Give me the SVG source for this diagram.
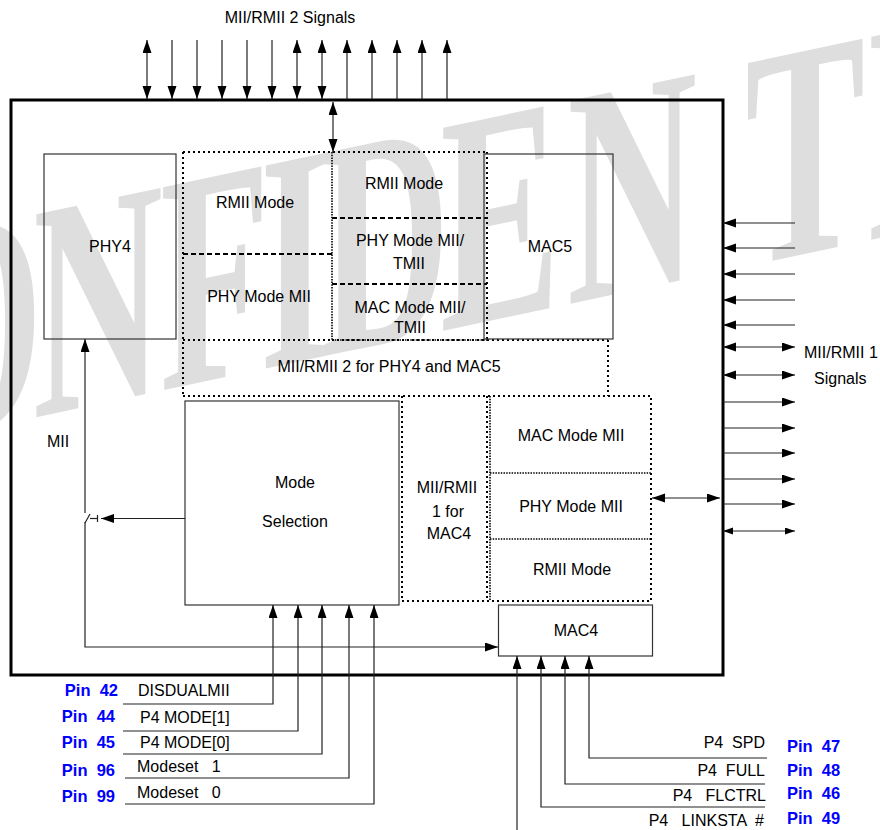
<svg xmlns="http://www.w3.org/2000/svg" width="880" height="830" viewBox="0 0 880 830">
<defs>
<style>
.ln{stroke:#222;stroke-width:1.2;fill:none}
.box{fill:none;stroke:#333;stroke-width:1.2}
.dot{fill:none;stroke:#000;stroke-width:2;stroke-dasharray:2 3}
.dash{fill:none;stroke:#000;stroke-width:2;stroke-dasharray:5 3}
.fine{fill:none;stroke:#000;stroke-width:1.6;stroke-dasharray:1.5 1.2}
.t{font-family:"Liberation Sans",Arial,sans-serif;font-size:16px;fill:#000;white-space:pre}
.c{text-anchor:middle}
.pin{font-family:"Liberation Sans",Arial,sans-serif;font-size:16.5px;font-weight:bold;fill:#0000ff;white-space:pre}
.wm{font-family:"Liberation Serif","Times New Roman",serif;font-size:310px;font-weight:bold;fill:#dedede}
</style>
<marker id="ah" markerUnits="userSpaceOnUse" markerWidth="14" markerHeight="10" refX="13" refY="4.5" orient="auto-start-reverse">
<path d="M0,0 L13,4.5 L0,9 z" fill="#000"/>
</marker>
<marker id="as" markerUnits="userSpaceOnUse" markerWidth="12" markerHeight="8" refX="10" refY="3.5" orient="auto-start-reverse">
<path d="M0,0 L10,3.5 L0,7 z" fill="#000"/>
</marker>
</defs>
<rect width="880" height="830" fill="#fff"/>

<g id="watermark">
<text class="wm" transform="translate(33,418) skewY(-12) scale(0.58,1)" x="-224 0 219 391 495 702 921 1228 1435" y="0">ONFIDENTI</text>
</g>

<g id="chip">
<rect x="11" y="100" width="712" height="575" fill="none" stroke="#000" stroke-width="3"/>
</g>

<g id="phy4">
<rect class="box" x="44" y="154" width="132" height="185"/>
<text class="t c" x="110" y="252">PHY4</text>
</g>

<g id="mii-rmii2-frame">
<path class="dot" d="M183,152 H487 M183,152 V396 M183,340 H332 M487,152 V340 M332,340 H608 M608,340 V396 M183,396 H651"/>
<path class="dash" d="M183,254 H332 M332,218 H487 M332,284 H487"/>
<path class="fine" d="M332,152 V340 M332,340 H487"/>
</g>

<g id="rmii-mode-left"><text class="t c" x="255" y="208">RMII Mode</text></g>
<g id="phy-mode-mii-left"><text class="t c" x="259" y="302">PHY Mode MII</text></g>
<g id="rmii-mode-mid"><text class="t c" x="404" y="189">RMII Mode</text></g>
<g id="phy-mode-tmii"><text class="t c" x="410" y="246">PHY Mode MII/</text><text class="t c" x="409" y="269">TMII</text></g>
<g id="mac-mode-tmii"><text class="t c" x="410" y="313">MAC Mode MII/</text><text class="t c" x="410" y="333">TMII</text></g>

<g id="mac5">
<rect class="box" x="484" y="154" width="129" height="185"/>
<text class="t c" x="550" y="252">MAC5</text>
</g>

<g id="mii-rmii2">
<text class="t c" x="389" y="372">MII/RMII 2 for PHY4 and MAC5</text>
</g>

<g id="mode-selection">
<rect class="box" x="185" y="401" width="214" height="204"/>
<text class="t c" x="295" y="488">Mode</text>
<text class="t c" x="295" y="527">Selection</text>
</g>

<g id="mii-rmii1">
<path class="dot" d="M402,396 V601 H651 V396 M487,396 V601"/>
<text class="t c" x="447" y="493">MII/RMII</text>
<text class="t c" x="448" y="517">1 for</text>
<text class="t c" x="449" y="539">MAC4</text>
</g>

<g id="mode-blocks-mac4">
<path class="fine" d="M490,396 V601 M490,473 H651 M490,539 H651"/>
</g>
<g id="mac-mode-mii"><text class="t c" x="571" y="441">MAC Mode MII</text></g>
<g id="phy-mode-mii-right"><text class="t c" x="571" y="512">PHY Mode MII</text></g>
<g id="rmii-mode-right"><text class="t c" x="572" y="575">RMII Mode</text></g>

<g id="mac4">
<rect class="box" x="498.5" y="605" width="154" height="51"/>
<text class="t c" x="576" y="636">MAC4</text>
</g>

<g id="labels">
<text class="t c" x="290" y="23">MII/RMII 2 Signals</text>
<text class="t" x="804" y="358">MII/RMII 1</text>
<text class="t" x="814" y="384">Signals</text>
<text class="t" x="47" y="447">MII</text>
<text class="pin" x="118" y="696" text-anchor="end">Pin  42</text>
<text class="pin" x="115" y="722" text-anchor="end">Pin  44</text>
<text class="pin" x="115" y="748" text-anchor="end">Pin  45</text>
<text class="pin" x="115" y="776" text-anchor="end">Pin  96</text>
<text class="pin" x="115" y="802" text-anchor="end">Pin  99</text>
<text class="t" x="138" y="696">DISDUALMII</text>
<text class="t" x="140" y="723">P4 MODE[1]</text>
<text class="t" x="140" y="748">P4 MODE[0]</text>
<text class="t" x="137" y="772">Modeset   1</text>
<text class="t" x="137" y="798">Modeset   0</text>
<text class="t" x="765" y="748" text-anchor="end">P4  SPD</text>
<text class="t" x="765" y="776" text-anchor="end">P4  FULL</text>
<text class="t" x="766" y="801" text-anchor="end">P4   FLCTRL</text>
<text class="t" x="764" y="826" text-anchor="end">P4   LINKSTA  #</text>
<text class="pin" x="787" y="752">Pin  47</text>
<text class="pin" x="787" y="776">Pin  48</text>
<text class="pin" x="787" y="799">Pin  46</text>
<text class="pin" x="787" y="824">Pin  49</text>
</g>

<g id="connectors">
<line class="ln" x1="147" y1="40" x2="147" y2="99" marker-start="url(#ah)" marker-end="url(#ah)"/>
<line class="ln" x1="172" y1="40" x2="172" y2="99" marker-end="url(#ah)"/>
<line class="ln" x1="197" y1="40" x2="197" y2="99" marker-end="url(#ah)"/>
<line class="ln" x1="222" y1="40" x2="222" y2="99" marker-end="url(#ah)"/>
<line class="ln" x1="247" y1="40" x2="247" y2="99" marker-end="url(#ah)"/>
<line class="ln" x1="272" y1="40" x2="272" y2="99" marker-end="url(#ah)"/>
<line class="ln" x1="297" y1="40" x2="297" y2="99" marker-start="url(#ah)" marker-end="url(#ah)"/>
<line class="ln" x1="322" y1="40" x2="322" y2="99" marker-start="url(#ah)" marker-end="url(#ah)"/>
<line class="ln" x1="347" y1="99" x2="347" y2="40" marker-end="url(#ah)"/>
<line class="ln" x1="372" y1="99" x2="372" y2="40" marker-end="url(#ah)"/>
<line class="ln" x1="397" y1="99" x2="397" y2="40" marker-end="url(#ah)"/>
<line class="ln" x1="422" y1="99" x2="422" y2="40" marker-end="url(#ah)"/>
<line class="ln" x1="447" y1="99" x2="447" y2="40" marker-end="url(#ah)"/>
<line class="ln" x1="333" y1="102" x2="333" y2="152" marker-start="url(#ah)" marker-end="url(#ah)"/>
<line class="ln" x1="795" y1="223" x2="723" y2="223" marker-end="url(#ah)"/>
<line class="ln" x1="795" y1="248" x2="723" y2="248" marker-end="url(#ah)"/>
<line class="ln" x1="795" y1="274" x2="723" y2="274" marker-end="url(#ah)"/>
<line class="ln" x1="795" y1="300" x2="723" y2="300" marker-end="url(#ah)"/>
<line class="ln" x1="795" y1="325" x2="723" y2="325" marker-end="url(#ah)"/>
<line class="ln" x1="723" y1="347" x2="795" y2="347" marker-start="url(#ah)" marker-end="url(#ah)"/>
<line class="ln" x1="723" y1="375" x2="795" y2="375" marker-start="url(#ah)" marker-end="url(#ah)"/>
<line class="ln" x1="723" y1="402" x2="795" y2="402" marker-end="url(#ah)"/>
<line class="ln" x1="723" y1="428" x2="795" y2="428" marker-end="url(#ah)"/>
<line class="ln" x1="723" y1="453" x2="795" y2="453" marker-end="url(#ah)"/>
<line class="ln" x1="723" y1="479" x2="795" y2="479" marker-end="url(#ah)"/>
<line class="ln" x1="723" y1="504" x2="795" y2="504" marker-end="url(#ah)"/>
<line class="ln" x1="723" y1="531" x2="795" y2="531" marker-start="url(#as)" marker-end="url(#as)"/>
<line class="ln" x1="652" y1="498" x2="720" y2="498" marker-start="url(#ah)" marker-end="url(#ah)"/>
<line class="ln" x1="85" y1="513" x2="85" y2="339" marker-end="url(#ah)"/>
<line class="ln" x1="85" y1="523" x2="90" y2="514"/>
<line class="ln" x1="90" y1="518.5" x2="97" y2="518.5"/>
<line class="ln" x1="97.5" y1="515" x2="97.5" y2="522"/>
<line class="ln" x1="185" y1="518.5" x2="101" y2="518.5" marker-end="url(#ah)"/>
<polyline class="ln" points="85,522 85,647 498,647" marker-end="url(#ah)"/>
<polyline class="ln" points="123,704 273,704 273,605" marker-end="url(#ah)"/>
<polyline class="ln" points="123,731 298,731 298,605" marker-end="url(#ah)"/>
<polyline class="ln" points="123,754 322,754 322,605" marker-end="url(#ah)"/>
<polyline class="ln" points="125,778 349,778 349,605" marker-end="url(#ah)"/>
<polyline class="ln" points="125,804 374,804 374,605" marker-end="url(#ah)"/>
<line class="ln" x1="517" y1="830" x2="517" y2="656" marker-end="url(#ah)"/>
<polyline class="ln" points="765,807 541,807 541,656" marker-end="url(#ah)"/>
<polyline class="ln" points="765,784 565,784 565,656" marker-end="url(#ah)"/>
<polyline class="ln" points="767,758 589,758 589,656" marker-end="url(#ah)"/>
</g>
</svg>
